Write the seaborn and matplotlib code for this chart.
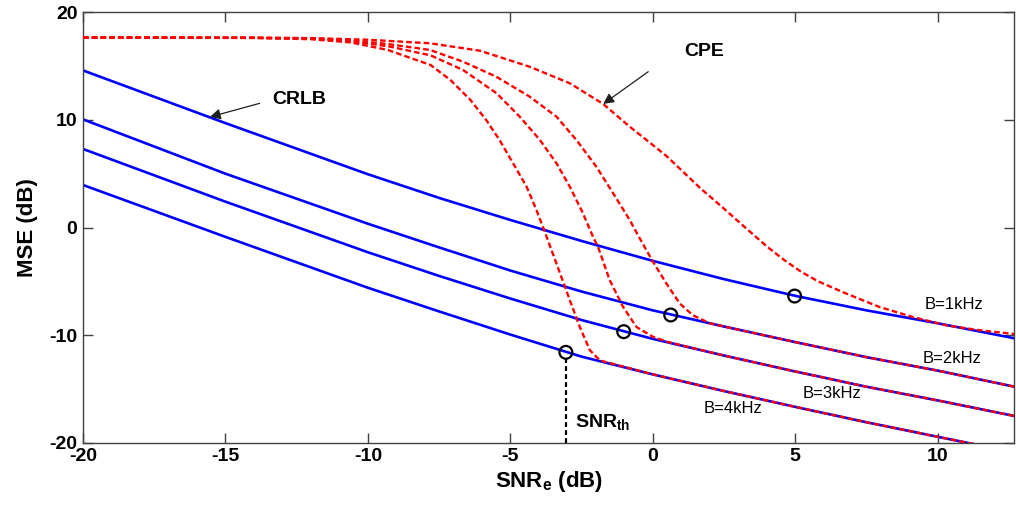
import numpy as np
import matplotlib
matplotlib.use("Agg")
import matplotlib.pyplot as plt
import seaborn as sns

# SNR grid (dB) on which the CRLB curves are tabulated
snr_grid = [-20, -15, -10, -7.5, -5, -2.5, 0, 2.5, 5, 7.5, 10, 12.7]

# Cramer-Rao lower bounds, MSE in dB, one per bandwidth
crlb_1k = [14.6, 9.7, 4.95, 2.75, 0.7, -1.25, -3.1, -4.8, -6.35, -7.7, -8.9, -10.3]
crlb_2k = [10.05, 5.0, 0.35, -1.85, -4.0, -5.95, -7.7, -9.2, -10.65, -12.05, -13.3, -14.8]
crlb_3k = [7.3, 2.4, -2.3, -4.5, -6.6, -8.6, -10.35, -11.9, -13.38, -14.8, -16.07, -17.52]
crlb_4k = [3.95, -0.87, -5.6, -7.8, -9.95, -12.0, -13.65, -15.2, -16.67, -18.1, -19.45, -20.9]

bandwidth_labels = ["B=1kHz", "B=2kHz", "B=3kHz", "B=4kHz"]

# CPE estimator MSE (dB); the 2-4 kHz curves run into their CRLB after the threshold
cpe_1k_snr = [-20, -14, -12, -10, -7.82, -6.07, -4.32, -2.91, -1.74, -0.81, -0.11,
              0.5, 1.65, 2.5, 3.2, 4.0, 4.6, 5.2, 5.8, 6.8, 7.96, 9.13, 10.3, 11.47, 12.7]
cpe_1k_mse = [17.65, 17.64, 17.6, 17.45, 17.12, 16.43, 14.94, 13.4, 11.48, 9.37, 7.9,
              6.6, 3.7, 1.75, 0.1, -1.75, -3.0, -4.1, -5.0, -6.15, -7.39, -8.32, -9.09, -9.55, -9.9]

cpe_2k_snr = [-20, -14, -12, -10.6, -9.3, -7.82, -6.66, -5.49, -4.32, -3.38, -2.68,
              -1.98, -1.39, -0.81, -0.46, 0.0, 0.48, 0.95, 1.41, 2.0]
cpe_2k_mse = [17.65, 17.63, 17.58, 17.4, 17.05, 16.5, 15.41, 14.01, 12.16, 10.3, 8.13,
              5.65, 3.18, 0.7, -1.0, -3.15, -5.21, -7.07, -8.16, -8.9]

cpe_3k_snr = [-20, -14, -12, -10.6, -9.3, -7.8, -6.66, -5.48, -4.67, -3.96, -3.38,
              -2.91, -2.45, -2.1, -1.92, -1.51, -1.04, -0.57, 0.0, 0.5]
cpe_3k_mse = [17.65, 17.62, 17.55, 17.3, 16.85, 16.0, 14.64, 12.47, 10.3, 8.13, 5.97,
              3.79, 1.32, -0.85, -1.81, -4.9, -7.39, -9.25, -10.15, -10.62]

cpe_4k_snr = [-20, -14, -12, -10.6, -9.3, -7.8, -7.1, -6.4, -5.85, -5.37, -4.9,
              -4.43, -4.08, -3.79, -3.38, -2.91, -2.56, -2.21, -1.86]
cpe_4k_mse = [17.65, 17.62, 17.5, 17.2, 16.5, 15.1, 13.7, 11.85, 10.0, 8.1, 5.95,
              3.8, 1.6, -0.4, -3.36, -6.77, -9.25, -11.4, -12.35]

# threshold SNR points marked on each CRLB
th_snr = [4.98, 0.63, -1.02, -3.05]
th_mse = [-6.37, -8.13, -9.68, -11.6]


def join_bound(x_head, y_head, y_bound):
    """Continue a CPE curve along its CRLB beyond the last tabulated point."""
    grid = np.asarray(snr_grid, dtype=float)
    tail = grid > x_head[-1]
    x = np.concatenate([x_head, grid[tail]])
    y = np.concatenate([y_head, np.asarray(y_bound, dtype=float)[tail]])
    return x, y


sns.set_theme(style="ticks")
plt.rcParams["font.family"] = ["Liberation Sans", "DejaVu Sans"]
plt.rcParams["mathtext.fontset"] = "custom"
plt.rcParams["mathtext.rm"] = "Liberation Sans"
plt.rcParams["mathtext.bf"] = "Liberation Sans:bold"
plt.rcParams["mathtext.it"] = "Liberation Sans:italic"
plt.rcParams["axes.unicode_minus"] = False
for key in ("text.color", "axes.labelcolor", "xtick.labelcolor", "ytick.labelcolor"):
    plt.rcParams[key] = "black"

fig = plt.figure(figsize=(10.16, 5.08), dpi=100)
ax = fig.add_axes([83 / 1016, 1 - 442.7 / 508, (1014 - 83) / 1016, (442.7 - 12.3) / 508])

x_min, x_max = -20, 12.68
y_min, y_max = -20, 20

# CRLB curves
for bound in (crlb_1k, crlb_2k, crlb_3k, crlb_4k):
    sns.lineplot(x=snr_grid, y=bound, ax=ax, color="#0000ff", linewidth=1.9,
                 estimator=None, sort=False, zorder=2)

# CPE curves
red_dash = (0, (2.4, 1.3))
cpe_curves = [
    (np.asarray(cpe_1k_snr), np.asarray(cpe_1k_mse)),
    join_bound(cpe_2k_snr, cpe_2k_mse, crlb_2k),
    join_bound(cpe_3k_snr, cpe_3k_mse, crlb_3k),
    join_bound(cpe_4k_snr, cpe_4k_mse, crlb_4k),
]
for cx, cy in cpe_curves:
    sns.lineplot(x=cx, y=cy, ax=ax, color="#ff0000", linewidth=1.7,
                 linestyle=red_dash, estimator=None, sort=False, zorder=3)

# threshold marker line for the 4 kHz case
ax.vlines(th_snr[3], y_min, th_mse[3] - 0.6, colors="black", linewidth=1.6,
          linestyles=(0, (2.2, 1.4)), zorder=4)

# threshold circles
sns.scatterplot(x=th_snr, y=th_mse, ax=ax, marker="o", s=85, color="black",
                facecolor="none", edgecolor="black", linewidth=1.6, zorder=5)

ax.set_xlim(x_min, x_max)
ax.set_ylim(y_min, y_max)
ax.set_xticks([-20, -15, -10, -5, 0, 5, 10])
ax.set_yticks([-20, -10, 0, 10, 20])

for side in ("left", "right", "top", "bottom"):
    ax.spines[side].set_visible(True)
    ax.spines[side].set_color("#404040")
    ax.spines[side].set_linewidth(1.0)
ax.tick_params(axis="both", which="both", direction="in", length=7, width=1.0,
               color="#404040", labelcolor="black", top=True, right=True,
               labelsize=14, pad=4)
for lab in ax.get_xticklabels() + ax.get_yticklabels():
    lab.set_fontweight("bold")

ax.set_xlabel(r"$\mathbf{SNR_e}$ (dB)", fontsize=16, fontweight="bold", labelpad=3)
ax.set_ylabel("MSE (dB)", fontsize=16, fontweight="bold", labelpad=8)

# annotations
ax.text(-12.4, 11.9, "CRLB", fontsize=14, fontweight="bold", ha="center", va="center")
ax.annotate("", xy=(-15.55, 10.27), xytext=(-13.8, 11.54),
            arrowprops=dict(arrowstyle="-|>", color="#202020", lw=0.9,
                            mutation_scale=16, shrinkA=0, shrinkB=0))
ax.text(1.82, 16.4, "CPE", fontsize=14, fontweight="bold", ha="center", va="center")
ax.annotate("", xy=(-1.74, 11.48), xytext=(-0.16, 14.48),
            arrowprops=dict(arrowstyle="-|>", color="#202020", lw=0.9,
                            mutation_scale=16, shrinkA=0, shrinkB=0))

label_pos = [(9.54, -7.2), (9.46, -12.16), (5.26, -15.4), (1.77, -16.8)]
for text, (lx, ly) in zip(bandwidth_labels, label_pos):
    ax.text(lx, ly, text, fontsize=12, ha="left", va="center")

ax.text(-2.74, -18.05, r"$\mathbf{SNR_{th}}$", fontsize=14, ha="left", va="center")

fig.savefig("out.png", dpi=100)
